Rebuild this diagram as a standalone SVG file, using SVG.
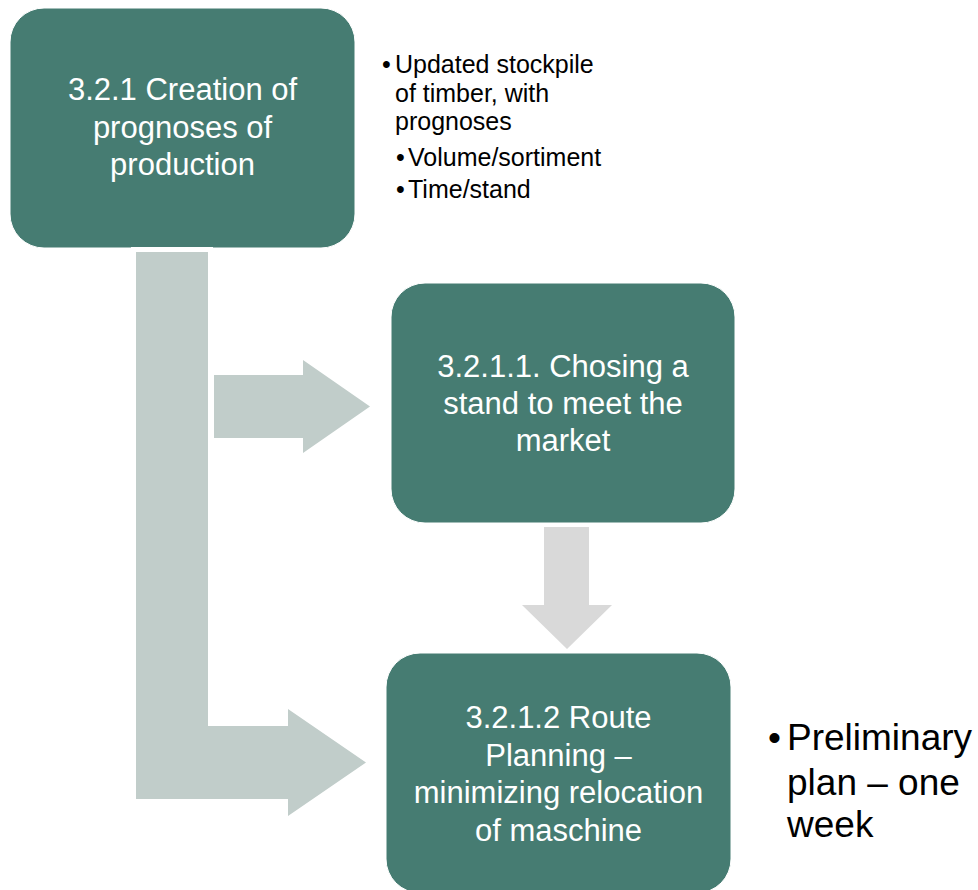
<svg xmlns="http://www.w3.org/2000/svg" width="978" height="890" viewBox="0 0 978 890">
<style>
.box{fill:#467C72;stroke:#ffffff;stroke-width:1}
.bt{font-family:"Liberation Sans",Arial,sans-serif;font-size:31px;fill:#ffffff;text-anchor:middle}
.sm{font-family:"Liberation Sans",Arial,sans-serif;font-size:25px;fill:#000000}
.lg{font-family:"Liberation Sans",Arial,sans-serif;font-size:37px;fill:#000000}
</style>
<rect width="978" height="890" fill="#ffffff"/>
<g id="node-321">
<rect class="box" x="10" y="8" width="345" height="240" rx="34" ry="34"/>
<text class="bt"><tspan x="182.5" y="100">3.2.1 Creation of</tspan><tspan x="182.5" y="137.5">prognoses of</tspan><tspan x="182.5" y="175">production</tspan></text>
</g>
<g id="notes-321">
<text class="sm" x="382" y="73">•</text>
<text class="sm" x="395" y="73">Updated stockpile</text>
<text class="sm" x="395" y="102">of timber, with</text>
<text class="sm" x="395" y="130">prognoses</text>
<text class="sm" x="396" y="166">•</text>
<text class="sm" x="408" y="166">Volume/sortiment</text>
<text class="sm" x="396" y="198">•</text>
<text class="sm" x="408" y="198">Time/stand</text>
</g>
<g id="node-3211">
<rect class="box" x="391" y="283" width="344" height="240" rx="34" ry="34"/>
<text class="bt"><tspan x="563" y="377">3.2.1.1. Chosing a</tspan><tspan x="563" y="414">stand to meet the</tspan><tspan x="563" y="451">market</tspan></text>
</g>
<g id="node-3212">
<rect class="box" x="386" y="653" width="345" height="240" rx="34" ry="34"/>
<text class="bt"><tspan x="558.5" y="728">3.2.1.2 Route</tspan><tspan x="558.5" y="766">Planning –</tspan><tspan x="558.5" y="803">minimizing relocation</tspan><tspan x="558.5" y="841">of maschine</tspan></text>
</g>
<g id="notes-3212">
<text class="lg" x="768" y="750">•</text>
<text class="lg" x="787" y="750">Preliminary</text>
<text class="lg" x="787" y="795">plan – one</text>
<text class="lg" x="787" y="837">week</text>
</g>
<g id="connectors">
<path d="M214,375 H303 V360 L370,406.5 L303,453 V438 H214 Z" fill="#C1CDCA"/>
<path d="M136,252 H208 V726 H288 V709 L366,762.5 L288,816 V799 H136 Z" fill="#C1CDCA" stroke="#ffffff" stroke-width="10" stroke-linejoin="miter" paint-order="stroke"/>
<path d="M544,527 H589 V605 H612 L567,649 L522,605 H544 Z" fill="#D9D9D9"/>
</g>
</svg>
